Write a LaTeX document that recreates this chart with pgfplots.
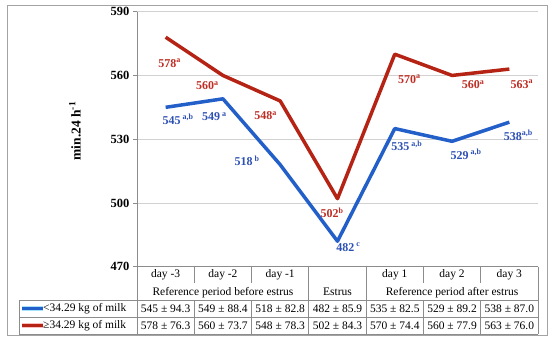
\documentclass[border=0pt]{standalone}
\usepackage{pgfplots}
\pgfplotsset{compat=1.18}
\usepackage{fontspec}
\setmainfont{Liberation Serif}
\definecolor{bl}{RGB}{35,95,200}
\definecolor{rd}{RGB}{180,35,20}
\definecolor{bll}{RGB}{45,80,180}
\definecolor{rdl}{RGB}{190,45,35}
\definecolor{tg}{RGB}{140,140,140}
\begin{document}
\begin{tikzpicture}[x=1pt,y=1pt]
\useasboundingbox (-137,-73.3) rectangle (413,266.7);
\draw[color=tg!80, line width=0.8pt] (-130,-68.3) rectangle (410,261.7);
\begin{axis}[scale only axis, width=401pt, height=255pt,
  xmin=-0.5, xmax=6.5, ymin=470, ymax=590,
  ytick={470,500,530,560,590}, xtick=\empty,
  axis x line=none, axis y line=left,
  axis line style={-, draw=tg, line width=0.8pt},
  ymajorgrids, grid style={draw=black!18, line width=0.8pt},
  tick align=outside, major tick length=4pt,
  tick style={draw=tg, line width=0.8pt},
  yticklabel style={font=\fontsize{12.5}{14}\selectfont\bfseries},
  /pgf/number format/assume math mode=true,
  clip=false]
\addplot[bl, line width=3.5pt, line join=round] coordinates {(0,545)(1,549)(2,518)(3,482)(4,535)(5,529)(6,538)};
\addplot[rd, line width=3.5pt, line join=round] coordinates {(0,578)(1,560)(2,548)(3,502)(4,570)(5,560)(6,563)};
% red labels
\begin{scope}[every node/.style={font=\fontsize{12}{14}\selectfont\bfseries, text=rdl, inner sep=0pt}]
\node[xshift=4pt, yshift=-26pt] at (axis cs:0,578) {578\textsuperscript{a}};
\node[xshift=-15.5pt, yshift=-10pt] at (axis cs:1,560) {560\textsuperscript{a}};
\node[xshift=-14.5pt, yshift=-15pt] at (axis cs:2,548) {548\textsuperscript{a}};
\node[xshift=-5.5pt, yshift=-14pt] at (axis cs:3,502) {502\textsuperscript{b}};
\node[xshift=14.5pt, yshift=-25pt] at (axis cs:4,570) {570\textsuperscript{a}};
\node[xshift=21pt, yshift=-9pt] at (axis cs:5,560) {560\textsuperscript{a}};
\node[xshift=12.5pt, yshift=-15pt] at (axis cs:6,563) {563\textsuperscript{a}};
\end{scope}
\begin{scope}[every node/.style={font=\fontsize{12}{14}\selectfont\bfseries, text=bll, inner sep=0pt}]
\node[xshift=12.5pt, yshift=-12pt] at (axis cs:0,545) {545\,\textsuperscript{a,b}};
\node[xshift=-8.5pt, yshift=-18pt] at (axis cs:1,549) {549\,\textsuperscript{a}};
\node[xshift=-33pt, yshift=4pt] at (axis cs:2,518) {518\,\textsuperscript{b}};
\node[xshift=11pt, yshift=-6pt] at (axis cs:3,482) {482\,\textsuperscript{c}};
\node[xshift=12pt, yshift=-17pt] at (axis cs:4,535) {535\,\textsuperscript{a,b}};
\node[xshift=14pt, yshift=-13pt] at (axis cs:5,529) {529\,\textsuperscript{a,b}};
\node[xshift=9pt, yshift=-13pt] at (axis cs:6,538) {538\textsuperscript{a,b}};
\end{scope}
\end{axis}
% y label
\node[rotate=90, font=\fontsize{13.5}{15}\selectfont\bfseries] at (-62,135.7) {min.24 h\textsuperscript{-1}};
% table lines
\begin{scope}[draw=tg, line width=0.8pt]
\draw (0,0) -- (401,0);
\draw (-118,-33.5) -- (401,-33.5);
\draw (-118,-50.5) -- (401,-50.5);
\draw (-118,-67.5) -- (401,-67.5);
\draw (-118,-33.5) -- (-118,-67.5);
\draw (0,0) -- (0,-67.5);
\draw (171.86,0) -- (171.86,-67.5);
\draw (229.14,0) -- (229.14,-67.5);
\draw (401,0) -- (401,-67.5);
\foreach \xx in {57.29,114.57,286.43,343.71} {
  \draw (\xx,0) -- (\xx,-16.5);
  \draw (\xx,-33.5) -- (\xx,-67.5);
}
\end{scope}
\begin{scope}[every node/.style={font=\fontsize{11.5}{13}\selectfont, inner sep=0pt}]
\node at (28.64,-8.5) {day -3};
\node at (85.93,-8.5) {day -2};
\node at (143.21,-8.5) {day -1};
\node at (257.79,-8.5) {day 1};
\node at (315.07,-8.5) {day 2};
\node at (372.36,-8.5) {day 3};
\node at (85.93,-25.5) {Reference period before estrus};
\node at (200.5,-25.5) {Estrus};
\node at (315.07,-25.5) {Reference period after estrus};
\node at (28.64,-42) {545 ± 94.3};
\node at (85.93,-42) {549 ± 88.4};
\node at (143.21,-42) {518 ± 82.8};
\node at (200.5,-42) {482 ± 85.9};
\node at (257.79,-42) {535 ± 82.5};
\node at (315.07,-42) {529 ± 89.2};
\node at (372.36,-42) {538 ± 87.0};
\node at (28.64,-59) {578 ± 76.3};
\node at (85.93,-59) {560 ± 73.7};
\node at (143.21,-59) {548 ± 78.3};
\node at (200.5,-59) {502 ± 84.3};
\node at (257.79,-59) {570 ± 74.4};
\node at (315.07,-59) {560 ± 77.9};
\node at (372.36,-59) {563 ± 76.0};
\node[anchor=west] at (-94,-42) {<34.29 kg of milk};
\node[anchor=west] at (-94,-59) {≥34.29 kg of milk};
\end{scope}
\draw[cyan!35, line width=5.5pt] (-115,-42) -- (-94,-42);
\draw[bl, line width=3.5pt] (-115,-42) -- (-94,-42);
\draw[red!25, line width=5.5pt] (-115,-59) -- (-94,-59);
\draw[rd, line width=3.5pt] (-115,-59) -- (-94,-59);
\end{tikzpicture}
\end{document}
